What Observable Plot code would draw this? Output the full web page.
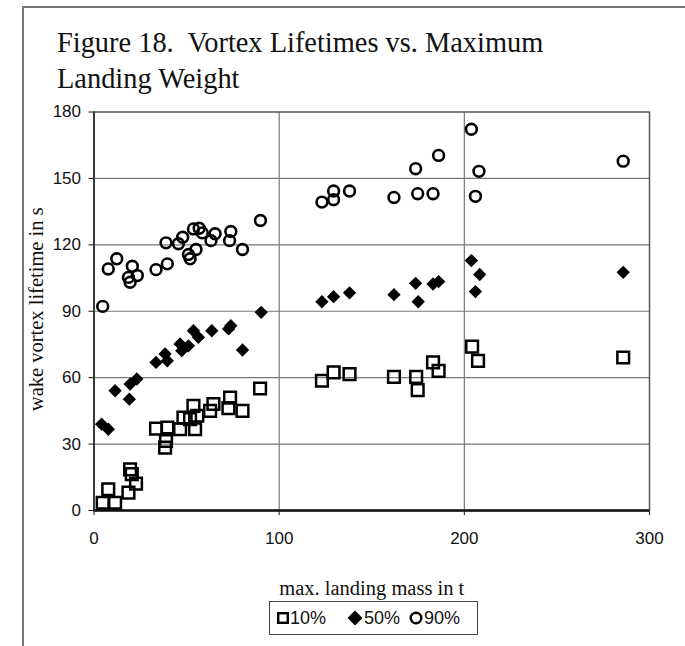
<!DOCTYPE html>
<html>
<head>
<meta charset="utf-8">
<script src="https://cdn.jsdelivr.net/npm/d3@7"></script>
<script src="https://cdn.jsdelivr.net/npm/@observablehq/plot@0.6"></script>
<style>
  html, body { margin: 0; padding: 0; background: #fff; }
  #wrap { position: relative; width: 685px; height: 646px; overflow: hidden; }
  #frameL { position: absolute; left: 22px; top: 6px; width: 1.5px; height: 640px; background: #777; }
  #frameT { position: absolute; left: 22px; top: 6px; width: 663px; height: 1.5px; background: #777; }
  #title { box-sizing: border-box; height: 100px; padding: 25px 0 0 57px; font-family: "Liberation Serif", "Times New Roman", serif; font-size: 28.4px; line-height: 36px; white-space: pre; color: #111; }
  #chart svg { display: block; }
  #chart svg g[aria-label^="x-axis"] text, #chart svg g[aria-label^="y-axis"] text { font-size: 17px; }
  #legend { position: absolute; left: 269px; top: 601px; width: 207px; height: 32px; border: 1px solid #444; font-family: "Liberation Sans", Arial, sans-serif; font-size: 18px; color: #111; }
  #legend .it { position: absolute; top: 0; height: 32px; display: flex; align-items: center; }
  #legend svg { margin-right: 1px; }
</style>
</head>
<body>
<div id="wrap">
  <div id="frameL"></div>
  <div id="frameT"></div>
  <div id="title">Figure 18.  Vortex Lifetimes vs. Maximum
Landing Weight</div>
  <div id="chart"></div>
  <div id="legend"></div>
</div>
<script>
// Axis ticks
const xTicks = [0, 100, 200, 300];
const yTicks = [0, 30, 60, 90, 120, 150, 180];

// Series labels
const seriesNames = ["10%", "50%", "90%"];

// 10% lifetime (squares)
const massP10 = [4.7, 11.4, 7.7, 18.6, 19.5, 20.4, 22.7, 33.5, 38.4, 38.9, 39.6, 46.5, 48.3, 53.7, 54.6, 51.9, 55.8, 62.7, 64.5, 73.5, 72.6, 80.2, 89.7, 123.1, 129.4, 138, 162, 174, 174.8, 183.1, 186.1, 204.2, 207.4, 285.8];
const lifeP10 = [3.5, 3.5, 9.6, 8.1, 18.6, 16.4, 12.1, 37, 28.4, 31.4, 37.5, 36.7, 42, 47.3, 36.7, 41.3, 42.8, 45, 48.1, 51, 46.2, 45, 55.1, 58.6, 62.4, 61.6, 60.4, 60.4, 54.4, 66.9, 63.1, 74, 67.6, 69.1];

// 50% lifetime (diamonds)
const massP50 = [4.1, 7.7, 11.4, 19.1, 19.5, 23.1, 33.5, 38.4, 39.6, 46.5, 47.4, 51, 53.7, 56.4, 63.6, 73.9, 72.7, 80.2, 90.3, 123.1, 129.4, 138, 162, 173.7, 175.1, 183.1, 186.1, 203.8, 208.3, 206, 285.8];
const lifeP50 = [39, 36.7, 54.1, 50.3, 57.1, 59.4, 66.9, 70.7, 67.6, 75.2, 72.2, 74.4, 81.2, 78.2, 81.2, 83.5, 82, 72.5, 89.5, 94.3, 96.6, 98.3, 97.5, 102.6, 94.3, 102.3, 103.4, 112.9, 106.6, 98.9, 107.6];

// 90% lifetime (circles)
const massP90 = [4.7, 7.7, 12.3, 18.6, 20.7, 19.5, 23.4, 33.5, 38.9, 39.6, 45.6, 47.9, 51, 51.9, 55.1, 53.7, 56.8, 58.5, 63.2, 65.4, 73.9, 73.2, 80.2, 89.9, 123.1, 129.4, 129.4, 138, 162, 173.7, 174.8, 183.1, 186.1, 203.8, 207.9, 206, 285.8];
const lifeP90 = [92.2, 109.1, 113.7, 105.3, 110.3, 103.1, 106.1, 108.8, 120.9, 111.4, 120.5, 123.4, 115.6, 113.7, 117.9, 127.2, 127.5, 125.4, 121.9, 125, 126, 121.9, 117.9, 131, 139.3, 140.4, 144.3, 144.3, 141.4, 154.4, 143.1, 143.1, 160.4, 172.2, 153.2, 141.9, 157.8];

const xLabel = "max. landing mass in t";
const yLabel = "wake vortex lifetime in s";

const toRows = (xs, ys) => xs.map((x, i) => ({x, y: ys[i]}));
const p10 = toRows(massP10, lifeP10);
const p50 = toRows(massP50, lifeP50);
const p90 = toRows(massP90, lifeP90);

const chart = Plot.plot({
  width: 685,
  height: 500,
  marginLeft: 93.5,
  marginRight: 36,
  marginTop: 11.5,
  marginBottom: 90,
  style: { fontFamily: "'Liberation Sans', Arial, sans-serif", fontSize: "17px", color: "#111", background: "transparent", overflow: "visible" },
  x: { domain: [0, 300], ticks: xTicks, tickSize: 5, tickPadding: 16, label: null, tickFormat: d => String(d) },
  y: { domain: [0, 180], ticks: yTicks, tickSize: 5, tickPadding: 8, label: null, tickFormat: d => String(d) },
  marks: [
    Plot.ruleY(yTicks.filter(d => d > 0 && d < 180), { stroke: "#777", strokeWidth: 1.2 }),
    Plot.ruleX(xTicks.filter(d => d > 0 && d < 300), { stroke: "#777", strokeWidth: 1.2 }),
    Plot.frame({ stroke: "#555", strokeWidth: 1.5 }),
    Plot.ruleY([0], { stroke: "#111", strokeWidth: 2.5 }),
    Plot.ruleX([0], { stroke: "#222", strokeWidth: 1.5 }),
    Plot.dot(p10, { x: "x", y: "y", symbol: "square", r: 6.6, stroke: "#000", strokeWidth: 2.5, fill: "none" }),
    Plot.dot(p50, { x: "x", y: "y", symbol: "diamond2", r: 6.0, fill: "#000", stroke: "none" }),
    Plot.dot(p90, { x: "x", y: "y", symbol: "circle", r: 5.4, stroke: "#000", strokeWidth: 2.6, fill: "none" }),
    Plot.text([yLabel], { frameAnchor: "left", textAnchor: "middle", dx: -57.5, dy: -2, rotate: -90, lineAnchor: "middle", fontFamily: "'Liberation Serif', 'Times New Roman', serif", fontSize: 20.5, fill: "#111" }),
    Plot.text([xLabel], { frameAnchor: "bottom", textAnchor: "middle", dy: 78, lineAnchor: "middle", fontFamily: "'Liberation Serif', 'Times New Roman', serif", fontSize: 20.5, fill: "#111" })
  ]
});
document.getElementById("chart").appendChild(chart);

// Legend
const legend = document.getElementById("legend");
const legendItems = [
  { name: seriesNames[0], left: 7, svg: '<svg width="12" height="12" viewBox="0 0 12 12"><rect x="1.2" y="1.2" width="9.6" height="9.6" fill="none" stroke="#000" stroke-width="2.4"/></svg>' },
  { name: seriesNames[1], left: 77, svg: '<svg width="16" height="16" viewBox="0 0 16 16"><path d="M8 0.5 L15.5 8 L8 15.5 L0.5 8 Z" fill="#000"/></svg>' },
  { name: seriesNames[2], left: 139, svg: '<svg width="14" height="14" viewBox="0 0 14 14"><circle cx="7" cy="7" r="5.3" fill="none" stroke="#000" stroke-width="2.4"/></svg>' }
];
for (const it of legendItems) {
  const d = document.createElement("div");
  d.className = "it";
  d.style.left = it.left + "px";
  d.innerHTML = it.svg + "<span>" + it.name + "</span>";
  legend.appendChild(d);
}
</script>
</body>
</html>
